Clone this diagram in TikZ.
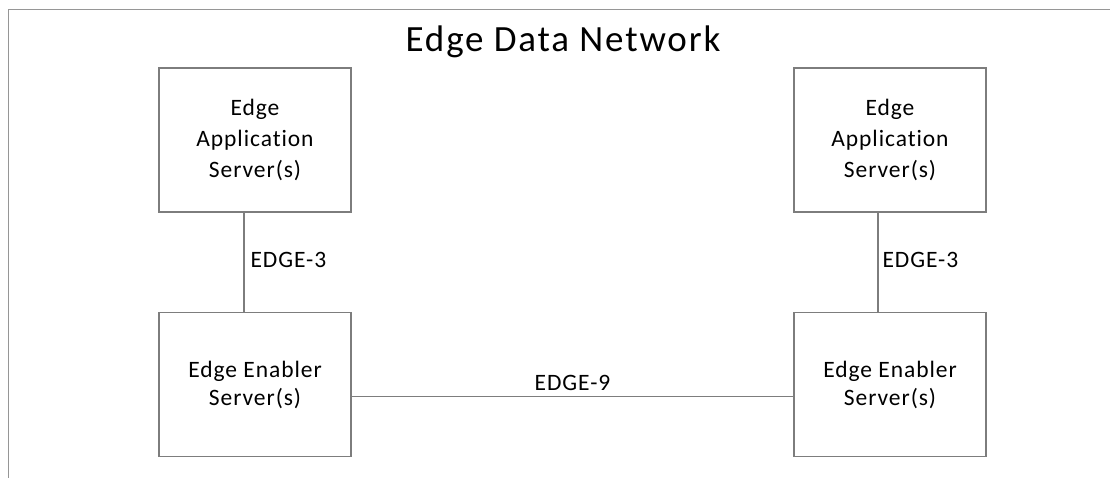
\documentclass[tikz,border=0pt]{standalone}
\usepackage{fontspec}
\setmainfont{Carlito}
\newfontfamily\spaced[LetterSpace=4,Ligatures=NoCommon]{Carlito}
\newfontfamily\titlefont[LetterSpace=5,Ligatures=NoCommon]{Carlito}
\definecolor{boxline}{RGB}{125,125,125}
\definecolor{frameline}{RGB}{150,150,150}
\begin{document}
\begin{tikzpicture}[x=1pt,y=-1pt,
  srvbox/.style={draw=boxline, line width=1.2pt, minimum width=192pt, minimum height=144pt,
    align=center, inner sep=0pt, font=\spaced\fontsize{23.5}{31}\selectfont},
  link/.style={draw=boxline, line width=1.1pt},
  lbl/.style={font=\spaced\fontsize{23.5}{26}\selectfont, inner sep=0pt}]
\useasboundingbox (0,0) rectangle (1110,477);
\draw[frameline, line width=1.5pt] (8.5,480) -- (8.5,9.5) -- (1112,9.5);
\node[font=\titlefont\fontsize{37}{42}\selectfont, inner sep=0pt] (title) at (563,42) {Edge Data Network};
\node[srvbox] (as1) at (255,140) {Edge\\Application\\Server(s)};
\node[srvbox] (as2) at (890,140) {Edge\\Application\\Server(s)};
\node[srvbox, font=\spaced\fontsize{23.5}{28}\selectfont] (ees1) at (255,384.5) {Edge Enabler\\Server(s)};
\node[srvbox, font=\spaced\fontsize{23.5}{28}\selectfont] (ees2) at (890,384.5) {Edge Enabler\\Server(s)};
\draw[link] (as1.south -| 244,0) -- node[lbl, anchor=west, xshift=6pt, yshift=2pt] (l3a) {EDGE-3} (ees1.north -| 244,0);
\draw[link] (as2.south -| 878,0) -- node[lbl, anchor=west, xshift=4pt, yshift=2pt] (l3b) {EDGE-3} (ees2.north -| 878,0);
\draw[link] (ees1.east |- 0,396.5) -- node[lbl, anchor=south, yshift=5pt] (l9) {EDGE-9} (ees2.west |- 0,396.5);
\end{tikzpicture}
\end{document}
